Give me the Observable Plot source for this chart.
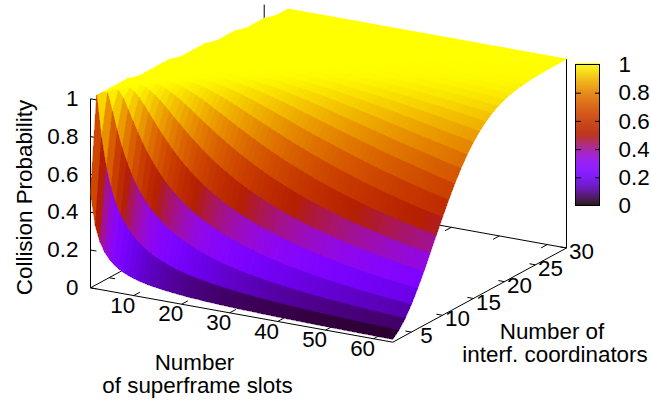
<!DOCTYPE html>
<html>
<head>
<meta charset="utf-8">
<style>html,body{margin:0;padding:0;background:#fff}svg{display:block}</style>
<script src="https://cdn.jsdelivr.net/npm/d3@7"></script>
<script src="https://cdn.jsdelivr.net/npm/@observablehq/plot@0.6"></script>
</head>
<body>
<script>
// Axis ticks
const slotTicks = [10, 20, 30, 40, 50, 60];
const coordTicks = [5, 10, 15, 20, 25, 30];
const probTicks = [0, 0.2, 0.4, 0.6, 0.8, 1];

// Surface grid: rows are the number of coordinators, columns the slots
const coordinators = [2,3,4,5,6,7,8,9,10,11,12,13,14,15,16,17,18,19,20,21,22,23,24,25,26,27,28,29,30];
// first slot value that has a sample in each coordinator row
const firstSlot = [1,1,1,1,1,1,1,2,2,2,2,2,2,3,3,3,3,3,4,4,4,4,5,5,5,5,6,6,6];
const slots = [1,2,3,4,5,6,7,8,9,10,11,12,13,14,15,16,17,18,19,20,21,22,23,24,25,26,27,28,29,30,31,32,33,34,35,36,37,38,39,40,41,42,43,44,45,46,47,48,49,50,51,52,53,54,55,56,57,58,59,60,61,62,63,64];
// probability per slot column, from 2 coordinators upward; a column stays at 1 once it ends
const probBySlot = [
  [.5],
  [.333,.778],
  [.25,.625,.906],
  [.2,.52,.808,.962],
  [.167,.444,.722,.907,.985],
  [.143,.388,.65,.85,.957,.994],
  [.125,.344,.59,.795,.923,.981,.998],
  [.111,.309,.539,.744,.886,.962,.992,.999],
  [.1,.28,.496,.698,.849,.94,.982,.996],
  [.091,.256,.459,.656,.812,.915,.969,.992,.998],
  [.083,.236,.427,.618,.777,.889,.954,.985,.996,.999],
  [.077,.219,.399,.584,.744,.862,.936,.976,.992,.998],
  [.071,.204,.375,.553,.713,.836,.918,.965,.987,.996,.999],
  [.067,.191,.353,.526,.684,.81,.899,.953,.981,.994,.998],
  [.063,.18,.334,.5,.656,.785,.879,.94,.974,.99,.997,.999],
  [.059,.17,.316,.477,.631,.761,.859,.926,.965,.986,.995,.998],
  [.056,.16,.3,.456,.607,.738,.84,.911,.956,.98,.992,.997,.999],
  [.053,.152,.286,.436,.585,.716,.821,.896,.945,.974,.989,.996,.999],
  [.05,.145,.273,.419,.564,.695,.802,.881,.935,.967,.985,.994,.998,.999],
  [.048,.138,.261,.402,.544,.674,.783,.866,.923,.96,.981,.992,.997,.999],
  [.045,.132,.251,.387,.526,.655,.765,.85,.912,.952,.976,.989,.995,.998,.999],
  [.043,.126,.24,.372,.509,.637,.747,.835,.9,.943,.97,.986,.994,.998,.999],
  [.042,.122,.231,.359,.493,.62,.731,.82,.888,.934,.965,.982,.992,.997,.999],
  [.04,.117,.223,.347,.478,.603,.714,.806,.876,.925,.958,.978,.99,.995,.998,.999],
  [.038,.112,.215,.336,.463,.587,.698,.791,.863,.916,.951,.974,.987,.994,.997,.999],
  [.037,.108,.207,.325,.45,.572,.683,.777,.851,.906,.944,.969,.984,.992,.997,.999],
  [.036,.105,.2,.315,.437,.558,.668,.763,.839,.897,.937,.964,.981,.99,.996,.998,.999],
  [.034,.101,.194,.305,.425,.544,.654,.749,.827,.887,.93,.959,.977,.988,.994,.997,.999],
  [.033,.098,.188,.296,.414,.531,.64,.736,.815,.877,.922,.953,.973,.986,.993,.997,.999,.999],
  [.032,.095,.183,.288,.403,.519,.627,.723,.804,.867,.914,.947,.969,.983,.991,.996,.998,.999],
  [.031,.092,.177,.28,.392,.506,.614,.711,.792,.857,.906,.941,.965,.98,.99,.995,.998,.999],
  [.03,.089,.172,.272,.383,.495,.602,.698,.781,.847,.898,.935,.961,.977,.988,.994,.997,.999,.999],
  [.029,.087,.167,.265,.373,.484,.59,.686,.769,.837,.89,.929,.956,.974,.986,.992,.996,.998,.999],
  [.029,.084,.163,.258,.364,.473,.579,.675,.759,.828,.882,.922,.951,.971,.983,.991,.995,.998,.999],
  [.028,.082,.158,.252,.356,.463,.568,.664,.748,.818,.874,.916,.946,.967,.981,.989,.994,.997,.999,.999],
  [.027,.08,.154,.246,.348,.453,.557,.653,.737,.808,.865,.909,.941,.963,.978,.988,.993,.997,.998,.999],
  [.026,.078,.15,.24,.34,.444,.547,.642,.727,.799,.857,.902,.936,.959,.975,.986,.992,.996,.998,.999],
  [.026,.076,.147,.234,.332,.435,.537,.632,.717,.789,.849,.895,.93,.955,.972,.984,.991,.995,.997,.999,.999],
  [.025,.074,.143,.229,.325,.426,.527,.621,.707,.78,.84,.888,.925,.951,.969,.982,.989,.994,.997,.998,.999],
  [.024,.072,.14,.224,.319,.418,.518,.612,.697,.771,.832,.881,.919,.947,.966,.979,.988,.993,.996,.998,.999],
  [.024,.07,.137,.219,.312,.41,.508,.602,.687,.762,.824,.874,.913,.942,.963,.977,.986,.992,.996,.998,.999,.999],
  [.023,.069,.134,.215,.306,.403,.5,.593,.678,.753,.816,.867,.907,.938,.959,.975,.985,.991,.995,.997,.999,.999],
  [.023,.067,.131,.21,.3,.395,.491,.584,.669,.744,.808,.86,.902,.933,.956,.972,.983,.99,.994,.997,.998,.999],
  [.022,.066,.128,.206,.294,.388,.483,.575,.66,.736,.8,.854,.896,.928,.952,.969,.981,.988,.993,.996,.998,.999,.999],
  [.022,.064,.125,.201,.288,.381,.475,.566,.651,.727,.792,.846,.89,.923,.948,.966,.979,.987,.992,.996,.998,.999,.999],
  [.021,.063,.123,.197,.283,.374,.468,.558,.643,.719,.785,.84,.884,.919,.945,.963,.977,.986,.991,.995,.997,.999,.999],
  [.021,.062,.12,.194,.278,.368,.46,.55,.634,.711,.777,.833,.878,.914,.941,.96,.974,.984,.99,.994,.997,.998,.999],
  [.02,.06,.117,.19,.272,.361,.453,.542,.626,.702,.769,.826,.872,.909,.937,.957,.972,.982,.989,.994,.996,.998,.999,.999],
  [.02,.059,.116,.186,.268,.356,.446,.534,.618,.695,.762,.819,.866,.904,.933,.954,.97,.981,.988,.993,.996,.998,.999,.999],
  [.02,.058,.114,.183,.263,.35,.439,.527,.61,.687,.754,.812,.86,.898,.928,.951,.967,.979,.987,.992,.995,.997,.999,.999],
  [.019,.057,.111,.18,.259,.344,.432,.52,.603,.679,.747,.805,.854,.893,.924,.947,.965,.977,.985,.991,.995,.997,.998,.999,.999],
  [.019,.056,.109,.177,.254,.339,.426,.513,.595,.672,.74,.799,.848,.888,.92,.944,.962,.975,.984,.99,.994,.997,.998,.999,.999],
  [.019,.055,.107,.173,.25,.333,.42,.506,.588,.664,.733,.792,.842,.883,.916,.941,.959,.973,.982,.989,.993,.996,.998,.999,.999],
  [.018,.054,.106,.171,.246,.329,.414,.499,.581,.657,.726,.786,.836,.878,.911,.937,.957,.971,.981,.988,.992,.995,.997,.999,.999],
  [.018,.053,.104,.168,.242,.323,.408,.492,.574,.65,.719,.779,.83,.873,.907,.934,.954,.969,.979,.987,.992,.995,.997,.998,.999],
  [.018,.052,.102,.165,.238,.318,.402,.486,.567,.643,.712,.773,.825,.868,.902,.93,.951,.966,.978,.985,.991,.994,.997,.998,.999,.999],
  [.017,.051,.1,.162,.234,.313,.396,.479,.56,.636,.705,.766,.818,.862,.898,.926,.948,.964,.976,.984,.99,.994,.996,.998,.999,.999],
  [.017,.05,.099,.16,.231,.309,.391,.474,.554,.629,.699,.76,.813,.857,.893,.922,.945,.962,.974,.983,.989,.993,.996,.998,.999,.999],
  [.017,.049,.097,.157,.227,.305,.386,.468,.547,.623,.692,.754,.807,.852,.889,.919,.942,.959,.972,.981,.988,.992,.995,.997,.998,.999,.999],
  [.016,.048,.095,.155,.224,.3,.38,.461,.541,.616,.685,.747,.801,.847,.885,.915,.939,.957,.97,.98,.987,.992,.995,.997,.998,.999,.999],
  [.016,.048,.094,.152,.221,.296,.376,.456,.535,.61,.679,.741,.796,.842,.88,.911,.935,.954,.968,.979,.986,.991,.994,.997,.998,.999,.999],
  [.016,.047,.092,.15,.218,.292,.371,.451,.529,.604,.673,.735,.79,.837,.876,.907,.932,.952,.966,.977,.985,.99,.994,.996,.998,.999,.999],
  [.016,.046,.091,.148,.214,.288,.366,.445,.523,.598,.667,.729,.784,.832,.871,.903,.929,.949,.964,.975,.983,.989,.993,.996,.997,.998,.999,.999],
  [.015,.046,.09,.146,.212,.284,.362,.44,.517,.592,.661,.724,.779,.826,.866,.899,.926,.946,.962,.974,.982,.988,.992,.995,.997,.998,.999,.999]
];

// View of the 3D box (gnuplot-like oblique projection)
const project = (s, n, z = 0) => ({
  x: 90 + (s - 1) * 4.798 + (n - 2) * 6.204,
  y: 287.3 + (s - 1) * 0.8635 - (n - 2) * 3.364 - z * 189
});
const depth = (s, n) => (s - 1) * 0.8635 - (n - 2) * 3.364;

// gnuplot default pm3d palette (rgbformulae 7,5,15)
const palette = t => {
  const r = Math.sqrt(t), g = t * t * t, b = Math.max(0, Math.sin(2 * Math.PI * t));
  return `rgb(${Math.round(r * 255)},${Math.round(g * 255)},${Math.round(b * 255)})`;
};

const sampled = (i, j) => slots[i] < firstSlot[j] ? null : (probBySlot[i][j] ?? 1);

// Facets, painted from the back corner to the front corner
const facets = [];
for (let i = 0; i + 1 < slots.length; i++) {
  for (let j = 0; j + 1 < coordinators.length; j++) {
    const corners = [[i, j], [i + 1, j], [i + 1, j + 1], [i, j + 1]]
      .map(([a, b]) => ({s: slots[a], n: coordinators[b], p: sampled(a, b)}))
      .filter(c => c.p !== null);
    if (corners.length >= 3) {
      facets.push({
        corners,
        value: d3.mean(corners, c => c.p),
        depth: d3.mean(corners, c => depth(c.s, c.n))
      });
    }
  }
}
facets.sort((a, b) => a.depth - b.depth);
const vertices = facets.flatMap((f, id) => f.corners.map(c => {
  const q = project(c.s, c.n, c.p);
  return {id, x: q.x, y: q.y, value: f.value};
}));

// Box edges and ticks as [s, n, z] pairs in data space
const sMin = 1, sMax = 64, nMin = 2, nMax = 30;
const edges = [
  [[sMin, nMin, 0], [sMax, nMin, 0]],
  [[sMax, nMin, 0], [sMax, nMax, 0]],
  [[sMax, nMax, 0], [sMin, nMax, 0]],
  [[sMin, nMax, 0], [sMin, nMin, 0]],
  [[sMin, nMin, 0], [sMin, nMin, 1]],
  [[sMin, nMax, 0], [sMin, nMax, 1]],
  [[sMax, nMax, 0], [sMax, nMax, 1]]
];
const tickSegs = [
  ...slotTicks.map(s => [[s, nMin, 0], [s, nMin + 1, 0]]),
  ...slotTicks.map(s => [[s, nMax, 0], [s, nMax - 1, 0]]),
  ...coordTicks.map(n => [[sMax, n, 0], [sMax - 1.25, n, 0]]),
  ...coordTicks.map(n => [[sMin, n, 0], [sMin + 1.25, n, 0]]),
  ...probTicks.map(z => [[sMin, nMin, z], [sMin + 1.25, nMin, z]])
];
const link = {
  x1: d => project(...d[0]).x, y1: d => project(...d[0]).y,
  x2: d => project(...d[1]).x, y2: d => project(...d[1]).y,
  stroke: "black", strokeWidth: 1
};

// Colour box
const cbox = {x1: 575.5, x2: 599.5, top: 64.5, bottom: 205.5};
const cbY = v => cbox.bottom + (cbox.top - cbox.bottom) * v;
const cbLevels = d3.range(0, 142).map(i => i / 141);

const textStyle = {fontFamily: "'Liberation Sans', Arial, sans-serif", fontSize: 22.4, fill: "black"};

const chart = Plot.plot({
  width: 651, height: 400, margin: 0,
  style: {background: "white"},
  x: {domain: [0, 651], range: [0, 651], axis: null},
  y: {domain: [0, 400], range: [0, 400], axis: null},
  color: {type: "linear", domain: [0, 1], interpolate: palette},
  marks: [
    Plot.link(edges, link),
    Plot.link(tickSegs, link),
    Plot.line(vertices, {
      x: "x", y: "y", z: "id", fill: "value", stroke: "value", strokeWidth: 0.6,
      shapeRendering: "crispEdges", curve: "linear-closed"
    }),
    // colour box
    Plot.rect(cbLevels, {
      x1: () => cbox.x1, x2: () => cbox.x2,
      y1: d => cbY(d), y2: d => cbY(d + 1 / 141 + 0.002),
      fill: d => d
    }),
    Plot.link(probTicks.slice(1, -1), {x1: () => cbox.x1, x2: () => cbox.x1 + 5, y1: cbY, y2: cbY, stroke: "black"}),
    Plot.link(probTicks.slice(1, -1), {x1: () => cbox.x2 - 5, x2: () => cbox.x2, y1: cbY, y2: cbY, stroke: "black"}),
    Plot.rect([0], {x1: () => cbox.x1, x2: () => cbox.x2, y1: () => cbox.top, y2: () => cbox.bottom, fill: "none", stroke: "black"}),
    Plot.text(probTicks, {x: () => 618, y: cbY, text: d => String(d), textAnchor: "start", ...textStyle}),
    // tick labels
    Plot.text(probTicks, {x: () => 78, y: d => project(sMin, nMin, d).y, text: d => String(d), textAnchor: "end", ...textStyle}),
    Plot.text(slotTicks, {x: d => project(d, nMin).x, y: d => project(d, nMin).y, dx: -11, dy: 10, text: d => String(d), ...textStyle}),
    Plot.text(coordTicks, {x: d => project(sMax, d).x, y: d => project(sMax, d).y, dx: 15, dy: 4, text: d => String(d), ...textStyle}),
    // axis titles
    Plot.text(["Number"], {x: () => 194, y: () => 362, text: d => d, ...textStyle}),
    Plot.text(["of superframe slots"], {x: () => 197, y: () => 385, text: d => d, ...textStyle}),
    Plot.text(["Number of"], {x: () => 551.5, y: () => 331, text: d => d, ...textStyle}),
    Plot.text(["interf. coordinators"], {x: () => 554.5, y: () => 354, text: d => d, ...textStyle}),
    Plot.text(["Collision Probability"], {x: () => 24, y: () => 197, rotate: -90, text: d => d, ...textStyle})
  ]
});
document.body.appendChild(chart);
</script>
</body>
</html>
